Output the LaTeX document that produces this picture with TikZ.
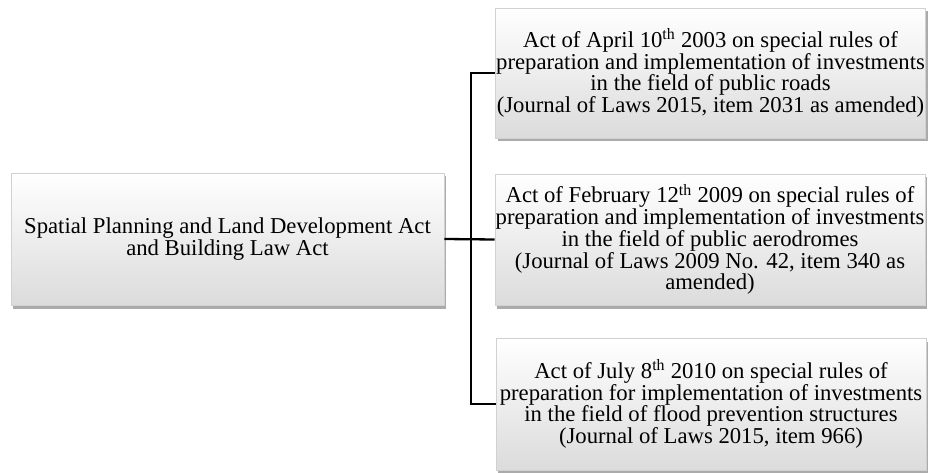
\documentclass[tikz,border=0pt]{standalone}
\usepackage{fontspec}
\setmainfont{Liberation Serif}
\usetikzlibrary{shadows}
\begin{document}
\begin{tikzpicture}[x=1pt,y=-1pt,
  actbox/.style={draw=black!18,line width=0.6pt,top color=white,bottom color=black!14,
    minimum width=430pt,inner sep=0pt,align=center,
    font=\fontsize{22.7}{21.7}\selectfont,
    drop shadow={shadow xshift=2pt,shadow yshift=-3.5pt,fill=black!60,opacity=0.55}},
  link/.style={draw=black,line width=2.3pt}]
\useasboundingbox (0,0) rectangle (929,473);
\node[actbox,minimum width=433pt,minimum height=132pt] (left) at (227.5,239)
  {Spatial Planning and Land Development Act\\and Building Law Act};
\node[actbox,minimum height=130pt] (top) at (710.5,73)
  {Act of April 10\textsuperscript{th} 2003 on special rules of\\preparation and implementation of investments\\in the field of public roads\\(Journal of Laws 2015, item 2031 as amended)};
\node[actbox,minimum height=131pt] (mid) at (710,239.5)
  {Act of February 12\textsuperscript{th} 2009 on special rules of\\preparation and implementation of investments\\in the field of public aerodromes\\(Journal of Laws 2009 No. 42, item 340 as\\amended)};
\node[actbox,minimum height=132pt] (bot) at (711,404)
  {Act of July 8\textsuperscript{th} 2010 on special rules of\\preparation for implementation of investments\\in the field of flood prevention structures\\(Journal of Laws 2015, item 966)};
\coordinate (j) at (471,239.5);
\draw[link] (left.east) -- (mid.west);
\draw[link] (top.west) -| (j) |- (bot.west);
\end{tikzpicture}
\end{document}
